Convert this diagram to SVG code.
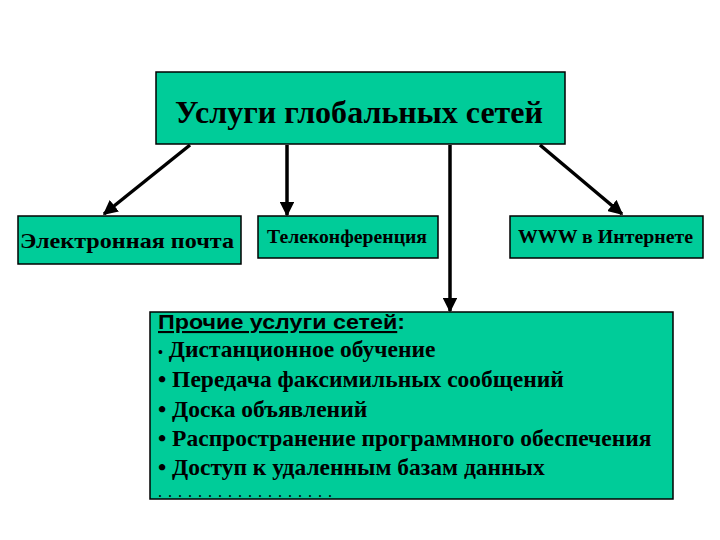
<svg xmlns="http://www.w3.org/2000/svg" width="720" height="540" viewBox="0 0 720 540">
  <defs>
    <style>
      .box { fill: #00CC99; stroke: #000; stroke-width: 1.5; }
      .serif { font-family: "Liberation Serif", "Times New Roman", serif; fill: #000; }
      .sans { font-family: "Liberation Sans", Arial, sans-serif; fill: #000; }
      .b { font-weight: bold; }
      .conn { stroke: #000; stroke-width: 3.5; fill: none; marker-end: url(#arrow); }
    </style>
    <marker id="arrow" viewBox="0 0 10 10" refX="9" refY="5" markerWidth="4.2" markerHeight="4.2" orient="auto" markerUnits="strokeWidth">
      <path d="M0,0 L10,5 L0,10 Z" fill="#000"/>
    </marker>
  </defs>
  <rect width="720" height="540" fill="#fff"/>

  <g id="connectors">
    <line class="conn" x1="190" y1="145" x2="104" y2="214"/>
    <line class="conn" x1="287" y1="145" x2="287" y2="215"/>
    <line class="conn" x1="450" y1="145" x2="450" y2="311"/>
    <line class="conn" x1="540" y1="145" x2="622" y2="214"/>
  </g>

  <g id="node-main">
    <rect class="box" x="156" y="72" width="409" height="72"/>
    <text class="serif b" x="175" y="123" font-size="31" textLength="368" lengthAdjust="spacingAndGlyphs">Услуги глобальных сетей</text>
  </g>

  <g id="node-email">
    <rect class="box" x="18" y="216" width="223" height="48"/>
    <text class="serif b" x="20" y="248" font-size="21" textLength="214" lengthAdjust="spacingAndGlyphs">Электронная почта</text>
  </g>

  <g id="node-telecon">
    <rect class="box" x="258" y="216" width="180" height="42"/>
    <text class="serif b" x="267" y="243" font-size="19" textLength="160" lengthAdjust="spacingAndGlyphs">Телеконференция</text>
  </g>

  <g id="node-www">
    <rect class="box" x="510" y="216" width="193" height="42"/>
    <text class="serif b" x="518" y="243" font-size="19" textLength="175" lengthAdjust="spacingAndGlyphs">WWW в Интернете</text>
  </g>

  <g id="node-other">
    <rect class="box" x="150" y="312" width="523" height="187"/>
    <text class="sans b" x="158" y="329" font-size="21" textLength="247" lengthAdjust="spacingAndGlyphs"><tspan text-decoration="underline">Прочие услуги сетей</tspan>:</text>
    <text class="serif b" x="158" y="357" font-size="23.5"><tspan class="sans" font-weight="normal" font-size="14">•</tspan> Дистанционное обучение</text>
    <text class="serif b" x="158" y="387" font-size="23.5">• Передача факсимильных сообщений</text>
    <text class="serif b" x="158" y="417" font-size="23.5">• Доска объявлений</text>
    <text class="serif b" x="158" y="446" font-size="23.5">• Распространение программного обеспечения</text>
    <text class="serif b" x="158" y="475" font-size="23.5">• Доступ к удаленным базам данных</text>
    <text class="serif" x="158" y="497" font-size="16" letter-spacing="6">..................</text>
  </g>
</svg>
